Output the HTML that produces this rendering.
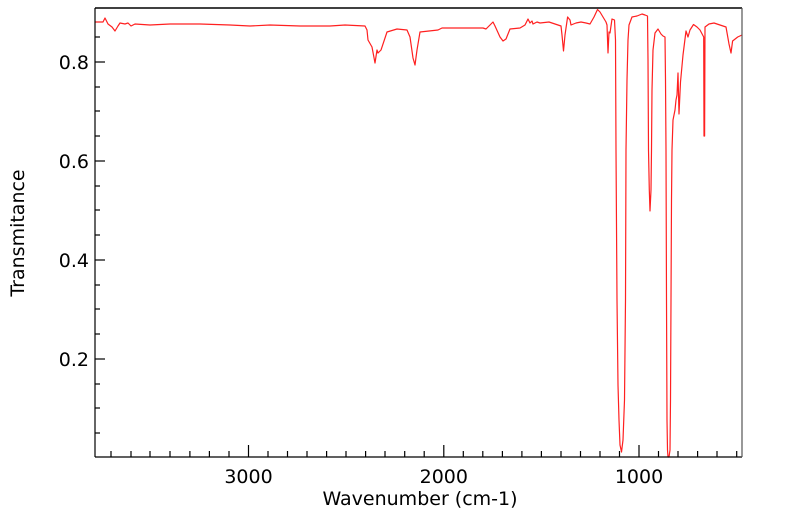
<!DOCTYPE html>
<html><head><meta charset="utf-8"><style>
html,body{margin:0;padding:0;background:#fff;}
svg{display:block;font-family:"DejaVu Sans","Liberation Sans",sans-serif;}
</style></head><body>
<svg width="799" height="516" viewBox="0 0 799 516">
<rect x="0" y="0" width="799" height="516" fill="#fff"/>
<polyline fill="none" stroke="#ff2020" stroke-width="1.2" stroke-linejoin="round" points="
95,22 103,22 105,18 108,24 112,27 115,31 118,26 120,23 125,24 128,23 131,26 135,24 150,25 170,24 200,24 230,25 250,26 270,25 300,26 330,26 345,25 365,26 367,30 368,40 372,47 375,63 377,50 378,53 381,50 387,32 397,29 407,30 410,37 413,58 415,65 417,50 420,32 438,30 442,28 457,28 473,28 483,28 486,29 493,22 495,26 500,37 503,41 506,39 510,29 520,28 525,25 528,19 530,23 532,21 533,24 537,22 540,23 549,22 555,24 561,26 562,35 563.5,51 565,35 567.6,17 570,20 571,25 576,23 581,22 586,23 590,24 594,17 597.5,9.5 600,12 603,17 606,22 607,25 608,53 609,32 610,33 612,19 614.5,20 615.5,40 616,150 617,300 618,385 619,420 620,445 621.5,452 623,440 624.5,400 625.5,300 626,150 627,80 628,40 629,25 632,17 637,16 642,14 645,15 647.5,16 648,60 648.5,150 649.3,190 650,211 651,190 651.5,150 652,90 653,50 655,33 658,29 661,34 663,36 665,37 665.5,80 666,150 666.5,300 667,420 667.5,450 668,457 669,457 670,450 670.5,400 671,300 671.5,200 672,150 673,120 675,110 676,100 677,95 678,73 679,114 680.5,82 683,55 686,31 688,37 690,30 693.5,24.5 697,27 700,30 703.7,37 704,136 704.6,136 705,27 709,24 714,23 720,25 726,27 729,44 731,53 732.6,41 737.7,37 742,35"/>
<g stroke="#000" stroke-width="1.2" fill="none">
<line x1="95" y1="8" x2="742" y2="8" stroke-width="1.5"/>
<line x1="95" y1="457" x2="742" y2="457"/>
<line x1="95" y1="8" x2="95" y2="457"/>
<line x1="742" y1="8" x2="742" y2="457" stroke="#555"/>
<line x1="95" y1="62" x2="105" y2="62"/>
<line x1="95" y1="161" x2="105" y2="161"/>
<line x1="95" y1="260" x2="105" y2="260"/>
<line x1="95" y1="359" x2="105" y2="359"/>
<line x1="95" y1="37" x2="100" y2="37"/>
<line x1="95" y1="87" x2="100" y2="87"/>
<line x1="95" y1="111" x2="100" y2="111"/>
<line x1="95" y1="136" x2="100" y2="136"/>
<line x1="95" y1="186" x2="100" y2="186"/>
<line x1="95" y1="210" x2="100" y2="210"/>
<line x1="95" y1="235" x2="100" y2="235"/>
<line x1="95" y1="285" x2="100" y2="285"/>
<line x1="95" y1="309" x2="100" y2="309"/>
<line x1="95" y1="334" x2="100" y2="334"/>
<line x1="95" y1="384" x2="100" y2="384"/>
<line x1="95" y1="408" x2="100" y2="408"/>
<line x1="95" y1="433" x2="100" y2="433"/>
<line x1="248.5" y1="457" x2="248.5" y2="445"/>
<line x1="443.8" y1="457" x2="443.8" y2="445"/>
<line x1="639" y1="457" x2="639" y2="445"/>
<line x1="111" y1="457" x2="111" y2="451"/><line x1="131" y1="457" x2="131" y2="451"/><line x1="150" y1="457" x2="150" y2="451"/><line x1="170" y1="457" x2="170" y2="451"/><line x1="189.9" y1="457" x2="189.9" y2="451"/><line x1="209.4" y1="457" x2="209.4" y2="451"/><line x1="229" y1="457" x2="229" y2="451"/><line x1="268" y1="457" x2="268" y2="451"/><line x1="287.5" y1="457" x2="287.5" y2="451"/><line x1="307" y1="457" x2="307" y2="451"/><line x1="326.6" y1="457" x2="326.6" y2="451"/><line x1="346" y1="457" x2="346" y2="451"/><line x1="365.6" y1="457" x2="365.6" y2="451"/><line x1="385" y1="457" x2="385" y2="451"/><line x1="404.7" y1="457" x2="404.7" y2="451"/><line x1="424.2" y1="457" x2="424.2" y2="451"/><line x1="463.3" y1="457" x2="463.3" y2="451"/><line x1="482.8" y1="457" x2="482.8" y2="451"/><line x1="502.4" y1="457" x2="502.4" y2="451"/><line x1="521.9" y1="457" x2="521.9" y2="451"/><line x1="541.4" y1="457" x2="541.4" y2="451"/><line x1="561" y1="457" x2="561" y2="451"/><line x1="580.5" y1="457" x2="580.5" y2="451"/><line x1="600" y1="457" x2="600" y2="451"/><line x1="619.5" y1="457" x2="619.5" y2="451"/><line x1="658.5" y1="457" x2="658.5" y2="451"/><line x1="678" y1="457" x2="678" y2="451"/><line x1="697.6" y1="457" x2="697.6" y2="451"/><line x1="717" y1="457" x2="717" y2="451"/><line x1="736.7" y1="457" x2="736.7" y2="451"/>
</g>
<g font-size="19" fill="#000">
<text x="89" y="69" text-anchor="end">0.8</text>
<text x="89" y="168" text-anchor="end">0.6</text>
<text x="89" y="267" text-anchor="end">0.4</text>
<text x="89" y="366" text-anchor="end">0.2</text>
<text x="248.5" y="483" text-anchor="middle">3000</text>
<text x="443.8" y="483" text-anchor="middle">2000</text>
<text x="639" y="483" text-anchor="middle">1000</text>
<text x="420" y="505" text-anchor="middle">Wavenumber (cm-1)</text>
<text transform="translate(24,233) rotate(-90)" text-anchor="middle">Transmitance</text>
</g>
</svg>
</body></html>
